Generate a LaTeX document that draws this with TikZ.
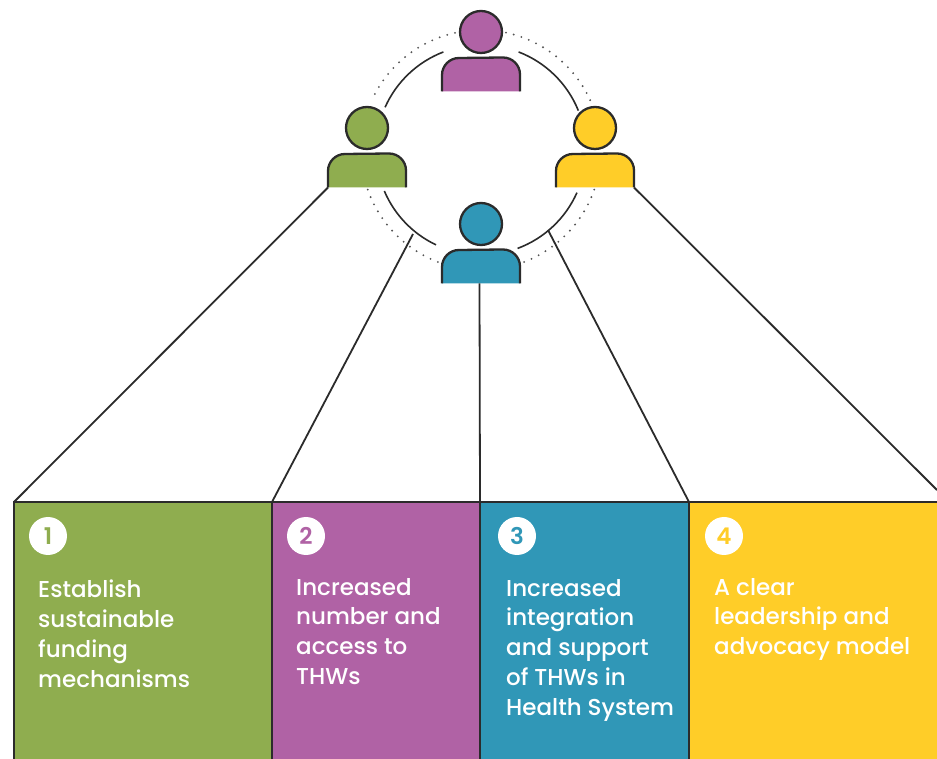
\documentclass[tikz,border=0pt]{standalone}
\usepackage{fontspec}
\setmainfont{Poppins Medium}
\newfontfamily\badgefont{Poppins SemiBold}
\usetikzlibrary{positioning}
\definecolor{thwgreen}{HTML}{8FAD4F}
\definecolor{thwpurple}{HTML}{B062A5}
\definecolor{thwblue}{HTML}{3097B7}
\definecolor{thwyellow}{HTML}{FFCD28}
\definecolor{thwline}{HTML}{2B2B2B}

\begin{document}
\begin{tikzpicture}[
		x=1pt, y=1pt,
		node distance=0pt,
		panel/.style={draw=thwline, line width=1.6pt, anchor=north west, inner sep=0pt, outer sep=0pt, minimum height=262pt},
		badge/.style={circle, fill=white, minimum size=38pt, inner sep=0pt, font=\badgefont\fontsize{23}{23}\selectfont},
		paneltext/.style={text=white, align=left, inner sep=0pt, font=\fontsize{23}{29.7}\selectfont},
		link/.style={draw=thwline, line width=1.8pt},
		ringline/.style={draw=thwline, line width=1.6pt},
		ringdots/.style={draw=thwline!80, line width=2.1pt, line cap=round, dash pattern=on 0pt off 8pt},
		person/.pic={
			\fill[pic actions, draw=none] (-39,-59.5) -- (-39,-43) arc[start angle=180, end angle=90, radius=17] -- (22,-25.5) arc[start angle=90, end angle=0, radius=17] -- (39,-59.5) -- cycle;
			\draw[thwline, line width=2.3pt] (-39,-59.5) -- (-39,-43) arc[start angle=180, end angle=90, radius=17] -- (22,-25.5) arc[start angle=90, end angle=0, radius=17] -- (39,-59.5);
			\filldraw[pic actions, draw=thwline, line width=2.3pt] (0,0) circle (21);
			\coordinate (-bl) at (-39,-59.5);
			\coordinate (-bc) at (-1.5,-59.5);
			\coordinate (-br) at (39,-59.5);
		},
	]
	\clip (0,0) rectangle (937,758);
	\fill[white] (0,0) rectangle (937,758);
	\coordinate (ring) at (481,608);
	\coordinate (ringl) at (413,524);
	\coordinate (ringr) at (548,528);
	\coordinate (edge) at (937,268);

	% boxes
	\node[panel, fill=thwgreen, minimum width=258pt] (box1) at (14,256) {};
	\node[panel, fill=thwpurple, minimum width=208pt, right=of box1.north east, anchor=north west] (box2) {};
	\node[panel, fill=thwblue, minimum width=209pt, right=of box2.north east, anchor=north west] (box3) {};
	\node[panel, fill=thwyellow, minimum width=260pt, right=of box3.north east, anchor=north west] (box4) {};

	\node[badge, text=thwgreen, below right=34pt and 34pt of box1.north west, anchor=center] (num1) {1};
	\node[badge, text=thwpurple, below right=34pt and 34pt of box2.north west, anchor=center] (num2) {2};
	\node[badge, text=thwblue, below right=34pt and 37pt of box3.north west, anchor=center] (num3) {3};
	\node[badge, text=thwyellow, below right=34pt and 35pt of box4.north west, anchor=center] (num4) {4};

	\node[paneltext, below right=78pt and 24pt of box1.north west] (txt1) {Establish\\sustainable\\funding\\mechanisms};
	\node[paneltext, below right=76pt and 24pt of box2.north west] (txt2) {Increased\\number and\\access to\\THWs};
	\node[paneltext, below right=77pt and 26pt of box3.north west] (txt3) {Increased\\integration\\and support\\of THWs in\\Health System};
	\node[paneltext, below right=76pt and 25pt of box4.north west] (txt4) {A clear\\leadership and\\advocacy model};

	% ring
	\draw[ringline] ([shift={(111:105)}]ring) arc[start angle=111, end angle=156, radius=105];
	\draw[ringline] ([shift={(69:105)}]ring) arc[start angle=69, end angle=22, radius=105];
	\draw[ringline] ([shift={(203:105)}]ring) arc[start angle=203, end angle=244.6, radius=105];
	\draw[ringline] ([shift={(-24:105)}]ring) arc[start angle=-24, end angle=-69.6, radius=105];
	\draw[ringdots] ([shift={(102.5:120)}]ring) arc[start angle=102.5, end angle=155, radius=120];
	\draw[ringdots] ([shift={(78:120)}]ring) arc[start angle=78, end angle=24.5, radius=120];
	\draw[ringdots] ([shift={(199.3:120)}]ring) arc[start angle=199.3, end angle=249.8, radius=120];
	\draw[ringdots] ([shift={(-19.3:120)}]ring) arc[start angle=-19.3, end angle=-70.2, radius=120];

	% people
	\pic[fill=thwpurple] (top) at (481,726) {person};
	\pic[fill=thwgreen] (left) at (367,630) {person};
	\pic[fill=thwyellow] (right) at (595,630) {person};
	\pic[fill=thwblue] (bottom) at (481,534) {person};

	\draw[link] (left-bl) -- (box1.north west);
	\draw[link] (ringl) -- (box2.north west);
	\draw[link] (bottom-bc) -- (box3.north west);
	\draw[link] (ringr) -- (box4.north west);
	\draw[link] (right-br) -- (edge);
\end{tikzpicture}
\end{document}
